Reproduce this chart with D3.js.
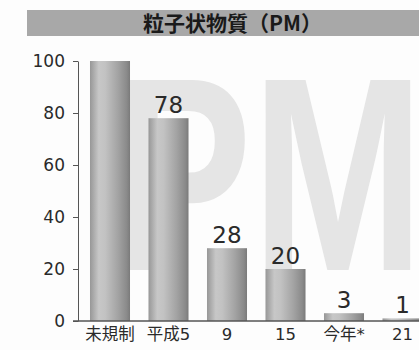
<!DOCTYPE html>
<html>
<head>
<meta charset="utf-8">
<script src="https://cdn.jsdelivr.net/npm/d3@7"></script>
<style>
  html, body { margin: 0; padding: 0; background: #fdfdfd; }
  svg { display: block; }
</style>
</head>
<body>
<script>
// ---- data ----
const categories = ["未規制", "平成5", "9", "15", "今年*", "21"];
const values = [100, 78, 28, 20, 3, 1];
const showValueLabel = [false, true, true, true, true, true];
const yTicks = [0, 20, 40, 60, 80, 100];
const title = "粒子状物質（PM）";
const watermark = "PM";

const W = 419, H = 350;
const svg = d3.select("body").append("svg").attr("width", W).attr("height", H);

// gradient for bars
const defs = svg.append("defs");
const grad = defs.append("linearGradient").attr("id", "barGrad")
  .attr("x1", "0%").attr("x2", "100%").attr("y1", "0%").attr("y2", "0%");
[["0%", "#979797"], ["22%", "#c7c7c7"], ["38%", "#c2c2c2"], ["70%", "#a3a3a3"], ["92%", "#8a8a8a"], ["100%", "#7a7a7a"]]
  .forEach(([o, c]) => grad.append("stop").attr("offset", o).attr("stop-color", c));

// title bar
svg.append("rect").attr("x", 27).attr("y", 10).attr("width", W - 27).attr("height", 26)
  .attr("fill", "#a8a8a8");
svg.append("text").attr("x", 143).attr("y", 31)
  .attr("font-family", "'Noto Sans CJK JP', sans-serif").attr("font-weight", 700)
  .attr("font-size", 21).attr("fill", "#1a1a1a").text(title);

// watermark
svg.append("text")
  .attr("x", 114).attr("y", 270)
  .attr("textLength", 310).attr("lengthAdjust", "spacingAndGlyphs")
  .attr("font-family", "'Liberation Sans', Arial, sans-serif").attr("font-weight", 700)
  .attr("font-size", 276).attr("fill", "#e5e5e5").text(watermark);

// scales
const y = d3.scaleLinear().domain([0, 100]).range([321, 61]);
const x = d3.scaleBand().domain(categories).range([80.75, 431.75])
  .paddingInner(0.316).paddingOuter(0.158);

// bars
svg.append("g").selectAll("rect").data(values).join("rect")
  .attr("x", (d, i) => x(categories[i]))
  .attr("y", d => y(d))
  .attr("width", x.bandwidth())
  .attr("height", d => y(0) - y(d))
  .attr("fill", "url(#barGrad)");

// value labels
svg.append("g").selectAll("text").data(values.map((v, i) => ({ v, i })).filter(d => showValueLabel[d.i]))
  .join("text")
  .attr("x", d => x(categories[d.i]) + x.bandwidth() / 2)
  .attr("y", d => y(d.v) - 5)
  .attr("text-anchor", "middle")
  .attr("font-family", "'DejaVu Sans', sans-serif")
  .attr("font-size", 23).attr("fill", "#2a2a2a")
  .text(d => d.v);

// y axis
const yAxis = svg.append("g").attr("transform", "translate(78,0)")
  .call(d3.axisLeft(y).tickValues(yTicks).tickSize(5).tickPadding(8).tickSizeOuter(0));
yAxis.select(".domain").attr("stroke", "#555");
yAxis.selectAll(".tick line").attr("stroke", "#555");
yAxis.selectAll(".tick text")
  .attr("font-family", "'DejaVu Sans', sans-serif").attr("font-size", 17).attr("fill", "#2a2a2a");

// x axis (baseline + labels)
const xAxis = svg.append("g").attr("transform", "translate(0,321)")
  .call(d3.axisBottom(x).tickSize(0).tickPadding(7));
xAxis.select(".domain").remove();
xAxis.selectAll(".tick text")
  .attr("font-family", "'DejaVu Sans', 'Noto Sans CJK JP', sans-serif")
  .attr("font-size", 16.5).attr("fill", "#2a2a2a");
svg.append("line").attr("x1", 73).attr("x2", W).attr("y1", y(0)).attr("y2", y(0))
  .attr("stroke", "#555").attr("stroke-width", 1.5);
</script>
</body>
</html>
